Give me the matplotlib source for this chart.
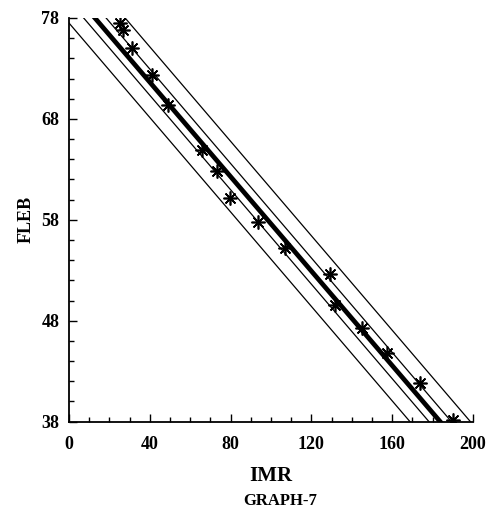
import matplotlib
matplotlib.use('Agg')
import matplotlib.pyplot as plt

# observed points (IMR, FLEB)
imr = [25.2, 26.7, 31.2, 40.9, 49.2, 65.7, 73.1, 79.7, 93.7, 106.9,
       129.2, 131.7, 144.9, 157.3, 173.8, 190.2]
fleb = [77.5, 76.8, 75.0, 72.4, 69.4, 64.9, 62.8, 60.2, 57.8, 55.2,
        52.6, 49.6, 47.3, 44.8, 41.8, 38.2]

# fitted line and bands, read as FLEB values at IMR = 0 and IMR = 200
line_imr = [0, 200]
fit = [81.0, 34.2]
conf_lo = [79.7, 32.9]
conf_hi = [82.3, 35.5]
pred_lo = [77.5, 30.7]
pred_hi = [84.5, 37.7]

xticks = [0, 40, 80, 120, 160, 200]
yticks = [38, 48, 58, 68, 78]

font = {'family': 'Liberation Serif', 'weight': 'bold'}

fig = plt.figure(figsize=(4.88, 5.11), dpi=100)
ax = fig.add_axes([0.1414, 0.1748, 0.8279, 0.790])

for band in (pred_lo, conf_lo, conf_hi, pred_hi):
    ax.plot(line_imr, band, color='black', lw=0.9)
ax.plot(line_imr, fit, color='black', lw=3.4, solid_capstyle='butt')
ax.plot(imr, fleb, ls='none', marker=(8, 2, 0), ms=10, mew=1.2, color='black')

ax.set_xlim(0, 200)
ax.set_ylim(38, 78)
ax.set_xticks(xticks)
ax.set_yticks(yticks)
ax.set_xticks(range(0, 201, 10), minor=True)
ax.set_yticks(range(38, 79, 2), minor=True)
ax.tick_params(which='major', direction='in', length=6, width=1, pad=10)
ax.tick_params(axis='y', which='major', pad=7)
ax.tick_params(which='minor', direction='in', length=3.5, width=1)
for lbl in ax.get_xticklabels() + ax.get_yticklabels():
    lbl.set_fontfamily('Liberation Serif')
    lbl.set_fontweight('bold')
    lbl.set_fontsize(13)

for side in ('top', 'right'):
    ax.spines[side].set_visible(False)
for side in ('left', 'bottom'):
    ax.spines[side].set_linewidth(1.3)

ax.set_xlabel('IMR', fontsize=15, labelpad=10, **font)
ax.set_ylabel('FLEB', fontsize=13, labelpad=5, **font)
fig.text(0.575, 0.004, 'GRAPH-7', ha='center', va='bottom', fontsize=12, **font)

fig.savefig('out.png', dpi=100)
